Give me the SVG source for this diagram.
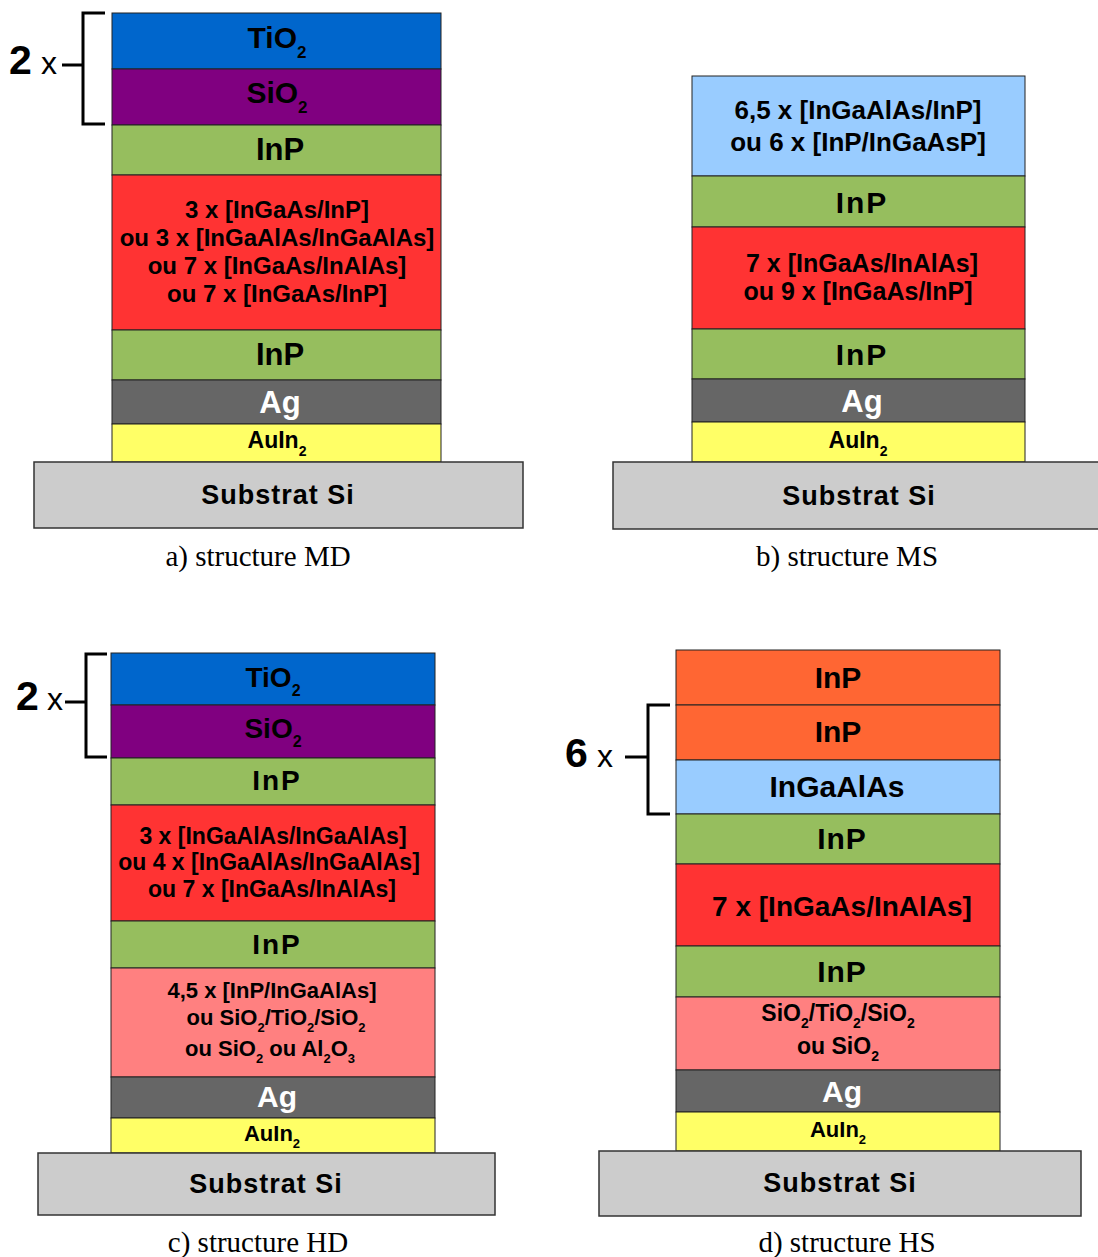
<svg xmlns="http://www.w3.org/2000/svg" width="1098" height="1257" viewBox="0 0 1098 1257">
<style>
rect{stroke:#222;stroke-width:1}
.sub{fill:#ccc;stroke:#333;stroke-width:1.5}
.tio2{fill:#0066cc}.sio2{fill:#800080}.inp{fill:#96be5e}.red{fill:#ff3333}.pink{fill:#ff8080}.ag{fill:#666}.au{fill:#ffff66}.lb{fill:#99ccff}.or{fill:#ff6633}
text{font-family:"Liberation Sans",Arial,sans-serif;font-weight:bold;text-anchor:middle;fill:#000}
.w{fill:#fff}
.cap{font-family:"Liberation Serif","Times New Roman",serif;font-weight:normal;font-size:29px}
.st{font-size:27px;letter-spacing:1px}
.mult{text-anchor:start}
.br{fill:none;stroke:#000;stroke-width:3}
</style>

<g id="connectors">
  <path class="br" d="M105,13 H83 V124 H105 M62,65 H83"/>
  <path class="br" d="M107,654 H86 V757 H107 M65,702 H86"/>
  <path class="br" d="M670,705 H648 V814 H670 M625,757 H648"/>
</g>

<!-- Panel a -->
<g id="a-mult"><text class="mult" x="9" y="74"><tspan font-size="41">2</tspan><tspan x="41" font-size="32" font-weight="normal">x</tspan></text></g>
<g id="a-tio2"><rect class="tio2" x="112" y="13" width="329" height="56"/><text x="277" y="48" font-size="30">TiO<tspan font-size="17" dy="10">2</tspan></text></g>
<g id="a-sio2"><rect class="sio2" x="112" y="69" width="329" height="56"/><text x="277" y="103" font-size="30">SiO<tspan font-size="17" dy="10">2</tspan></text></g>
<g id="a-inp1"><rect class="inp" x="112" y="125" width="329" height="50"/><text x="280" y="160" font-size="31">InP</text></g>
<g id="a-mqw"><rect class="red" x="112" y="175" width="329" height="155"/><text x="277" font-size="24"><tspan x="277" y="218">3 x [InGaAs/InP]</tspan><tspan x="277" y="246">ou 3 x [InGaAlAs/InGaAlAs]</tspan><tspan x="277" y="274">ou 7 x [InGaAs/InAlAs]</tspan><tspan x="277" y="302">ou 7 x [InGaAs/InP]</tspan></text></g>
<g id="a-inp2"><rect class="inp" x="112" y="330" width="329" height="50"/><text x="280" y="365" font-size="31">InP</text></g>
<g id="a-ag"><rect class="ag" x="112" y="380" width="329" height="44"/><text class="w" x="280" y="413" font-size="31">Ag</text></g>
<g id="a-au"><rect class="au" x="112" y="424" width="329" height="38"/><text x="277" y="448" font-size="23">AuIn<tspan font-size="14" dy="8">2</tspan></text></g>
<g id="a-sub"><rect class="sub" x="34" y="462" width="489" height="66"/><text class="st" x="278" y="504">Substrat Si</text></g>
<text class="cap" x="258" y="566">a) structure MD</text>

<!-- Panel b -->
<g id="b-dbr"><rect class="lb" x="692" y="76" width="333" height="100"/><text font-size="26"><tspan x="858" y="119">6,5 x [InGaAlAs/InP]</tspan><tspan x="858" y="151">ou 6 x [InP/InGaAsP]</tspan></text></g>
<g id="b-inp1"><rect class="inp" x="692" y="176" width="333" height="51"/><text x="862" y="213" font-size="30" letter-spacing="2">InP</text></g>
<g id="b-mqw"><rect class="red" x="692" y="227" width="333" height="102"/><text font-size="25"><tspan x="862" y="272">7 x [InGaAs/InAlAs]</tspan><tspan x="858" y="300">ou 9 x [InGaAs/InP]</tspan></text></g>
<g id="b-inp2"><rect class="inp" x="692" y="329" width="333" height="50"/><text x="862" y="365" font-size="30" letter-spacing="2">InP</text></g>
<g id="b-ag"><rect class="ag" x="692" y="379" width="333" height="43"/><text class="w" x="862" y="412" font-size="31">Ag</text></g>
<g id="b-au"><rect class="au" x="692" y="422" width="333" height="40"/><text x="858" y="448" font-size="23">AuIn<tspan font-size="14" dy="8">2</tspan></text></g>
<g id="b-sub"><rect class="sub" x="613" y="462" width="490" height="67"/><text class="st" x="859" y="505">Substrat Si</text></g>
<text class="cap" x="847" y="566">b) structure MS</text>

<!-- Panel c -->
<g id="c-mult"><text class="mult" x="16" y="710"><tspan font-size="41">2</tspan><tspan x="47" font-size="32" font-weight="normal">x</tspan></text></g>
<g id="c-tio2"><rect class="tio2" x="111" y="653" width="324" height="52"/><text x="273" y="687" font-size="28">TiO<tspan font-size="16" dy="9">2</tspan></text></g>
<g id="c-sio2"><rect class="sio2" x="111" y="705" width="324" height="53"/><text x="273" y="738" font-size="28">SiO<tspan font-size="16" dy="9">2</tspan></text></g>
<g id="c-inp1"><rect class="inp" x="111" y="758" width="324" height="47"/><text x="277" y="790" font-size="28" letter-spacing="2">InP</text></g>
<g id="c-mqw"><rect class="red" x="111" y="805" width="324" height="116"/><text font-size="23"><tspan x="273" y="844">3 x [InGaAlAs/InGaAlAs]</tspan><tspan x="269" y="870">ou 4 x [InGaAlAs/InGaAlAs]</tspan><tspan x="272" y="897">ou 7 x [InGaAs/InAlAs]</tspan></text></g>
<g id="c-inp2"><rect class="inp" x="111" y="921" width="324" height="47"/><text x="277" y="954" font-size="28" letter-spacing="2">InP</text></g>
<g id="c-dbr"><rect class="pink" x="111" y="968" width="324" height="109"/><text font-size="22"><tspan x="272" y="998">4,5 x [InP/InGaAlAs]</tspan></text><text x="276" y="1025" font-size="22">ou SiO<tspan font-size="13" dy="7">2</tspan><tspan dy="-7">/TiO</tspan><tspan font-size="13" dy="7">2</tspan><tspan dy="-7">/SiO</tspan><tspan font-size="13" dy="7">2</tspan></text><text x="270" y="1056" font-size="22">ou SiO<tspan font-size="13" dy="7">2</tspan><tspan dy="-7"> ou Al</tspan><tspan font-size="13" dy="7">2</tspan><tspan dy="-7">O</tspan><tspan font-size="13" dy="7">3</tspan></text></g>
<g id="c-ag"><rect class="ag" x="111" y="1077" width="324" height="41"/><text class="w" x="277" y="1107" font-size="30">Ag</text></g>
<g id="c-au"><rect class="au" x="111" y="1118" width="324" height="35"/><text x="272" y="1141" font-size="22">AuIn<tspan font-size="13" dy="7">2</tspan></text></g>
<g id="c-sub"><rect class="sub" x="38" y="1153" width="457" height="62"/><text class="st" x="266" y="1193">Substrat Si</text></g>
<text class="cap" x="258" y="1252">c) structure HD</text>

<!-- Panel d -->
<g id="d-mult"><text class="mult" x="565" y="767"><tspan font-size="41">6</tspan><tspan x="597" font-size="32" font-weight="normal">x</tspan></text></g>
<g id="d-inp-top"><rect class="or" x="676" y="650" width="324" height="55"/><text x="838" y="688" font-size="30">InP</text></g>
<g id="d-inp-rep"><rect class="or" x="676" y="705" width="324" height="55"/><text x="838" y="742" font-size="30">InP</text></g>
<g id="d-ingaalas"><rect class="lb" x="676" y="760" width="324" height="54"/><text x="837" y="797" font-size="30">InGaAlAs</text></g>
<g id="d-inp1"><rect class="inp" x="676" y="814" width="324" height="50"/><text x="842" y="849" font-size="30" letter-spacing="1">InP</text></g>
<g id="d-mqw"><rect class="red" x="676" y="864" width="324" height="82"/><text x="842" y="916" font-size="28">7 x [InGaAs/InAlAs]</text></g>
<g id="d-inp2"><rect class="inp" x="676" y="946" width="324" height="51"/><text x="842" y="982" font-size="30" letter-spacing="1">InP</text></g>
<g id="d-dbr"><rect class="pink" x="676" y="997" width="324" height="73"/><text x="838" y="1021" font-size="23">SiO<tspan font-size="14" dy="7">2</tspan><tspan dy="-7">/TiO</tspan><tspan font-size="14" dy="7">2</tspan><tspan dy="-7">/SiO</tspan><tspan font-size="14" dy="7">2</tspan></text><text x="838" y="1054" font-size="23">ou SiO<tspan font-size="14" dy="7">2</tspan></text></g>
<g id="d-ag"><rect class="ag" x="676" y="1070" width="324" height="42"/><text class="w" x="842" y="1102" font-size="30">Ag</text></g>
<g id="d-au"><rect class="au" x="676" y="1112" width="324" height="39"/><text x="838" y="1137" font-size="22">AuIn<tspan font-size="13" dy="7">2</tspan></text></g>
<g id="d-sub"><rect class="sub" x="599" y="1151" width="482" height="65"/><text class="st" x="840" y="1192">Substrat Si</text></g>
<text class="cap" x="847" y="1252">d) structure HS</text>
</svg>
